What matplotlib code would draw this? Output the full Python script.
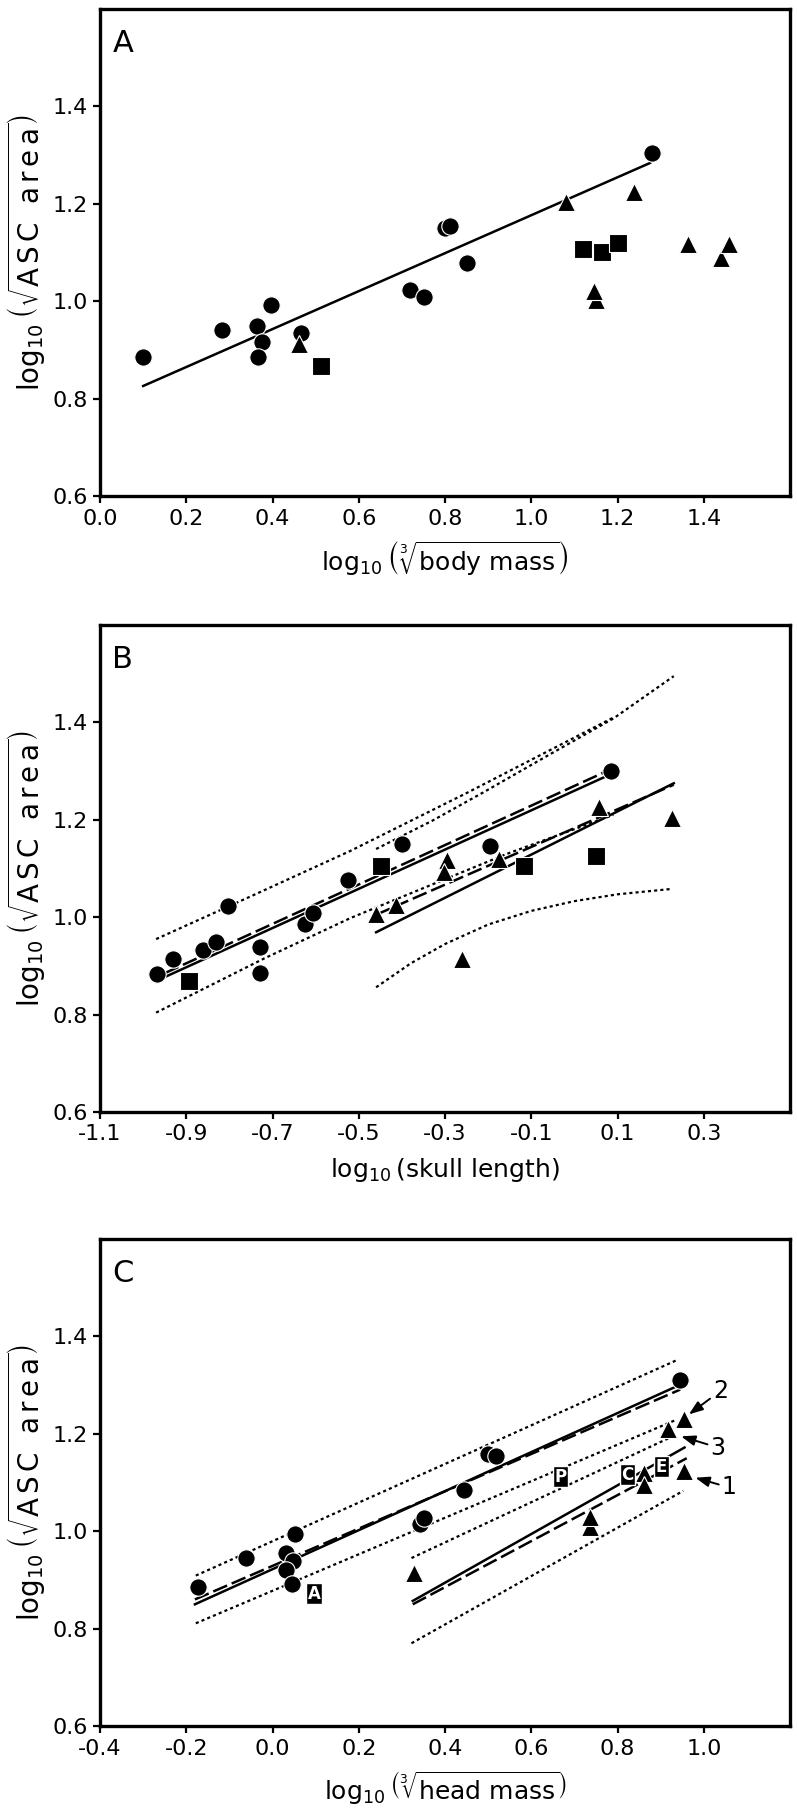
import matplotlib
matplotlib.use("Agg")
import matplotlib.pyplot as plt

plt.rcParams['font.family'] = ['DejaVu Sans']
plt.rcParams['mathtext.fontset'] = 'dejavusans'

# ---- panel A: body mass ----
a_circ_x = [0.10, 0.283, 0.364, 0.375, 0.366, 0.396, 0.466, 0.718, 0.750, 0.800, 0.811, 0.851, 1.279]
a_circ_y = [0.885, 0.941, 0.950, 0.917, 0.886, 0.992, 0.935, 1.024, 1.009, 1.150, 1.154, 1.079, 1.304]
a_tri_x = [0.462, 1.080, 1.237, 1.150, 1.146, 1.362, 1.439, 1.457]
a_tri_y = [0.912, 1.203, 1.225, 1.002, 1.022, 1.117, 1.089, 1.117]
a_sq_x = [0.513, 1.119, 1.164, 1.201]
a_sq_y = [0.868, 1.107, 1.102, 1.120]
a_fit_x = [0.10, 1.275]
a_fit_y = [0.826, 1.284]

# ---- panel B: skull length ----
b_circ_x = [-0.969, -0.930, -0.862, -0.831, -0.804, -0.729, -0.729, -0.625, -0.606, -0.526, -0.401, -0.195, 0.084]
b_circ_y = [0.884, 0.915, 0.933, 0.949, 1.023, 0.939, 0.886, 0.987, 1.009, 1.077, 1.151, 1.147, 1.300]
b_tri_x = [-0.460, -0.413, -0.295, -0.303, -0.175, -0.261, 0.056, 0.227]
b_tri_y = [1.007, 1.024, 1.118, 1.093, 1.120, 0.915, 1.226, 1.203]
b_sq_x = [-0.894, -0.448, -0.118, 0.049]
b_sq_y = [0.869, 1.106, 1.106, 1.126]

b_up_solid_x, b_up_solid_y = [-0.95, 0.07], [0.877, 1.288]
b_up_dash_x, b_up_dash_y = [-0.95, 0.07], [0.885, 1.298]
b_up_hi_x = [-0.97, -0.75, -0.52, -0.25, 0.09]
b_up_hi_y = [0.955, 1.043, 1.136, 1.255, 1.41]
b_up_lo_x = [-0.97, -0.72, -0.52, -0.16, 0.09]
b_up_lo_y = [0.804, 0.915, 0.998, 1.129, 1.21]
b_lo_solid_x, b_lo_solid_y = [-0.46, 0.23], [0.969, 1.275]
b_lo_dash_x, b_lo_dash_y = [-0.46, 0.23], [1.005, 1.272]
b_lo_hi_x = [-0.46, -0.33, -0.21, -0.06, 0.09, 0.23]
b_lo_hi_y = [1.14, 1.198, 1.257, 1.333, 1.408, 1.495]
b_lo_lo_x = [-0.46, -0.38, -0.30, -0.20, -0.10, 0.0, 0.10, 0.225]
b_lo_lo_y = [0.856, 0.905, 0.945, 0.985, 1.013, 1.033, 1.047, 1.058]

# ---- panel C: head mass ----
c_circ_x = [-0.173, -0.062, 0.032, 0.048, 0.032, 0.044, 0.053, 0.341, 0.351, 0.444, 0.499, 0.517, 0.945]
c_circ_y = [0.886, 0.945, 0.955, 0.939, 0.920, 0.891, 0.995, 1.014, 1.028, 1.084, 1.158, 1.154, 1.311]
c_tri_x = [0.328, 0.735, 0.735, 0.862, 0.862, 0.917, 0.953, 0.953]
c_tri_y = [0.915, 1.008, 1.030, 1.119, 1.096, 1.209, 1.231, 1.124]

c_up_solid_x, c_up_solid_y = [-0.18, 0.945], [0.850, 1.301]
c_up_dash_x, c_up_dash_y = [-0.18, 0.945], [0.860, 1.291]
c_up_hi_x, c_up_hi_y = [-0.178, 0.941], [0.909, 1.353]
c_up_lo_x, c_up_lo_y = [-0.178, 0.936], [0.811, 1.229]
c_lo_solid_x, c_lo_solid_y = [0.325, 0.955], [0.857, 1.172]
c_lo_dash_x, c_lo_dash_y = [0.325, 0.96], [0.850, 1.150]
c_lo_hi_x, c_lo_hi_y = [0.322, 0.93], [0.945, 1.196]
c_lo_lo_x, c_lo_lo_y = [0.322, 0.952], [0.770, 1.083]

c_tag_text = ['A', 'P', 'C', 'E']
c_tag_x = [0.096, 0.668, 0.823, 0.902]
c_tag_y = [0.872, 1.112, 1.116, 1.133]

c_arrow_text = ['2', '3', '1']
c_arrow_tx = [1.038, 1.032, 1.058]
c_arrow_ty = [1.288, 1.172, 1.090]
c_arrow_px = [0.965, 0.947, 0.980]
c_arrow_py = [1.240, 1.195, 1.110]

ylab = r'$\log_{10}\left(\sqrt{\mathrm{A\,S\,C\ \ a\,r\,e\,a}}\right)$'

SOLID = dict(color='black', lw=1.8, ls='-', zorder=2)
DASH = dict(color='black', lw=1.8, ls=(0, (6, 2)), zorder=2)
DOT = dict(color='black', lw=1.6, ls=(0, (1.4, 1.4)), zorder=2)
MK = dict(ls='none', color='black', mec='white', mew=0.8, zorder=3)

tick_font = dict(family='Liberation Sans Narrow', size=16)


def setup(ax, xlim, xticks, xlabels, xlab, letter):
    ax.set_xlim(*xlim)
    ax.set_ylim(0.6, 1.6)
    ax.set_xticks(xticks)
    ax.set_xticklabels(xlabels, fontdict=tick_font)
    ax.set_yticks([0.6, 0.8, 1.0, 1.2, 1.4])
    ax.set_yticklabels(['0.6', '0.8', '1.0', '1.2', '1.4'], fontdict=tick_font)
    for s in ax.spines.values():
        s.set_linewidth(2.4)
    ax.tick_params(direction='out', length=5, width=1.6, pad=4)
    ax.set_xlabel(xlab, fontsize=18, labelpad=8)
    ax.set_ylabel(ylab, fontsize=20, labelpad=4)
    ax.text(0.018, 0.93, letter, transform=ax.transAxes, fontsize=22,
            ha='left', va='center')


def points(ax, cx, cy, tx, ty, sx=None, sy=None):
    ax.plot(cx, cy, marker='o', ms=12.5, **MK)
    if sx is not None:
        ax.plot(sx, sy, marker='s', ms=12.5, **MK)
    ax.plot(tx, ty, marker='^', ms=12.5, **MK)


fig = plt.figure(figsize=(7.97, 18.19), dpi=100)
axA = fig.add_axes([0.1255, 0.7273, 0.866, 0.2677])
axB = fig.add_axes([0.1255, 0.3887, 0.866, 0.2677])
axC = fig.add_axes([0.1255, 0.0511, 0.866, 0.2677])

# A
setup(axA, (0, 1.6), [0, 0.2, 0.4, 0.6, 0.8, 1.0, 1.2, 1.4],
      ['0.0', '0.2', '0.4', '0.6', '0.8', '1.0', '1.2', '1.4'],
      r'$\log_{10}\left(\sqrt[3]{\mathrm{body\ mass}}\right)$', 'A')
axA.plot(a_fit_x, a_fit_y, **SOLID)
points(axA, a_circ_x, a_circ_y, a_tri_x, a_tri_y, a_sq_x, a_sq_y)

# B
setup(axB, (-1.1, 0.5), [-1.1, -0.9, -0.7, -0.5, -0.3, -0.1, 0.1, 0.3],
      ['-1.1', '-0.9', '-0.7', '-0.5', '-0.3', '-0.1', '0.1', '0.3'],
      r'$\log_{10}(\mathrm{skull\ length})$', 'B')
axB.plot(b_up_solid_x, b_up_solid_y, **SOLID)
axB.plot(b_up_dash_x, b_up_dash_y, **DASH)
axB.plot(b_up_hi_x, b_up_hi_y, **DOT)
axB.plot(b_up_lo_x, b_up_lo_y, **DOT)
axB.plot(b_lo_solid_x, b_lo_solid_y, **SOLID)
axB.plot(b_lo_dash_x, b_lo_dash_y, **DASH)
axB.plot(b_lo_hi_x, b_lo_hi_y, **DOT)
axB.plot(b_lo_lo_x, b_lo_lo_y, **DOT)
points(axB, b_circ_x, b_circ_y, b_tri_x, b_tri_y, b_sq_x, b_sq_y)

# C
setup(axC, (-0.4, 1.2), [-0.4, -0.2, 0.0, 0.2, 0.4, 0.6, 0.8, 1.0],
      ['-0.4', '-0.2', '0.0', '0.2', '0.4', '0.6', '0.8', '1.0'],
      r'$\log_{10}\left(\sqrt[3]{\mathrm{head\ mass}}\right)$', 'C')
axC.plot(c_up_solid_x, c_up_solid_y, **SOLID)
axC.plot(c_up_dash_x, c_up_dash_y, **DASH)
axC.plot(c_up_hi_x, c_up_hi_y, **DOT)
axC.plot(c_up_lo_x, c_up_lo_y, **DOT)
axC.plot(c_lo_solid_x, c_lo_solid_y, **SOLID)
axC.plot(c_lo_dash_x, c_lo_dash_y, **DASH)
axC.plot(c_lo_hi_x, c_lo_hi_y, **DOT)
axC.plot(c_lo_lo_x, c_lo_lo_y, **DOT)
points(axC, c_circ_x, c_circ_y, c_tri_x, c_tri_y)

for t, x, y in zip(c_tag_text, c_tag_x, c_tag_y):
    axC.text(x, y, t, color='white', fontsize=12, fontweight='bold',
             ha='center', va='center', zorder=4,
             bbox=dict(boxstyle='square,pad=0.1', fc='black', ec='white', lw=1.0))

for t, tx, ty, px, py in zip(c_arrow_text, c_arrow_tx, c_arrow_ty, c_arrow_px, c_arrow_py):
    axC.annotate(t, xy=(px, py), xytext=(tx, ty), fontsize=17,
                 ha='center', va='center', zorder=4,
                 arrowprops=dict(arrowstyle='-|>,head_length=0.6,head_width=0.22',
                                 color='black', lw=1.4, mutation_scale=14,
                                 shrinkA=0, shrinkB=0))

fig.savefig('out.png', dpi=100)
